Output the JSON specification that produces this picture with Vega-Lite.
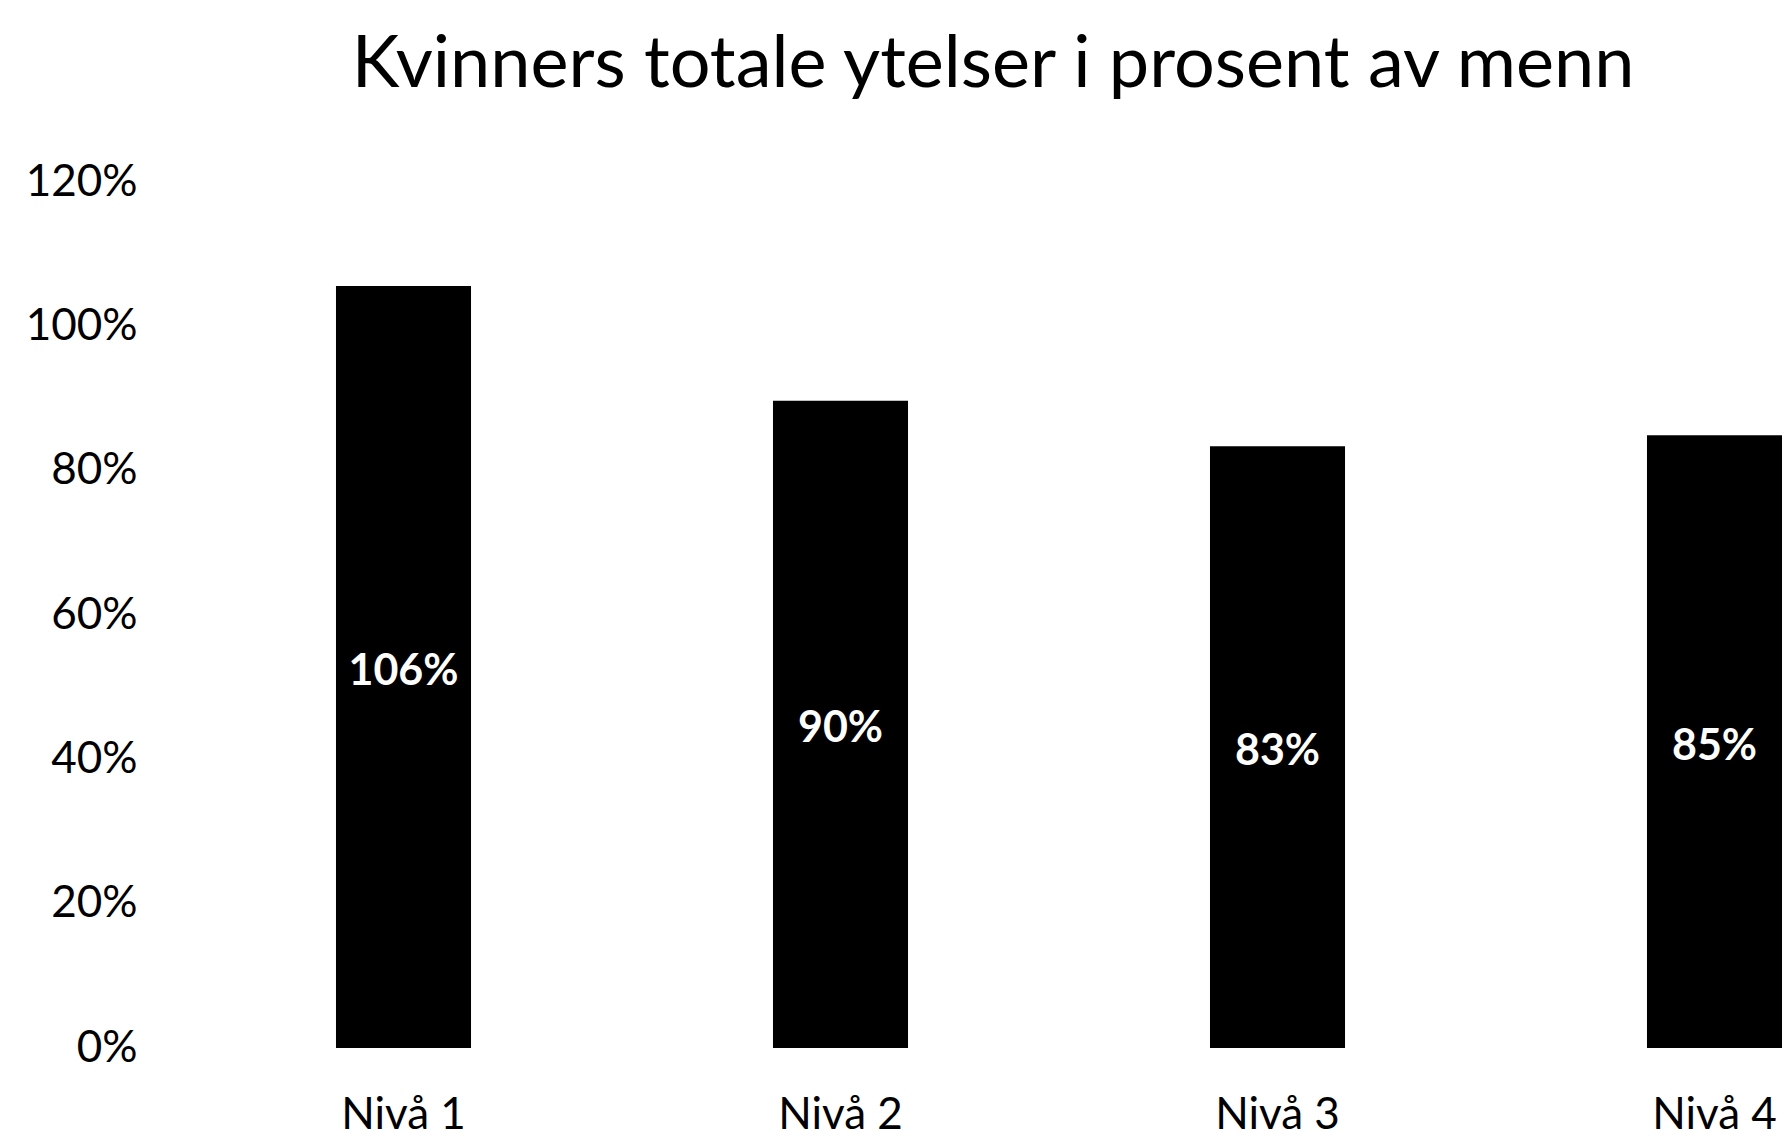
{
  "$schema": "https://vega.github.io/schema/vega-lite/v6.json",
  "width": 1600,
  "height": 866,
  "autosize": {"type": "none"},
  "padding": {"left": 185, "top": 182, "right": 0, "bottom": 90},
  "background": "white",
  "config": {"view": {"stroke": null}},
  "title": {
    "text": "Kvinners totale ytelser i prosent av menn",
    "font": "Lato",
    "fontSize": 72,
    "fontWeight": "normal",
    "color": "black",
    "anchor": "middle",
    "dx": 8,
    "offset": 58
  },
  "data": {
    "values": [
      {"niva": "Nivå 1", "andel": 1.056},
      {"niva": "Nivå 2", "andel": 0.897},
      {"niva": "Nivå 3", "andel": 0.834},
      {"niva": "Nivå 4", "andel": 0.849}
    ]
  },
  "encoding": {
    "x": {
      "field": "niva",
      "type": "nominal",
      "sort": null,
      "scale": {"range": [0, 1748], "paddingInner": 0.691, "paddingOuter": 0.3455},
      "axis": {
        "title": null,
        "labelAngle": 0,
        "domain": false,
        "ticks": false,
        "labelFont": "Lato",
        "labelFontSize": 44,
        "labelColor": "black",
        "labelPadding": 45
      }
    }
  },
  "layer": [
    {
      "mark": {"type": "bar", "color": "black", "clip": true},
      "encoding": {
        "y": {
          "field": "andel",
          "type": "quantitative",
          "scale": {"domain": [0, 1.2]},
          "axis": {
            "title": null,
            "format": ".0%",
            "values": [0, 0.2, 0.4, 0.6, 0.8, 1.0, 1.2],
            "grid": false,
            "domain": false,
            "ticks": false,
            "labelFont": "Lato",
            "labelFontSize": 44,
            "labelColor": "black",
            "labelPadding": 48
          }
        }
      }
    },
    {
      "mark": {"type": "text", "color": "white", "font": "Lato", "fontWeight": "bold", "fontSize": 43, "baseline": "middle", "dy": 5, "clip": true},
      "encoding": {
        "y": {
          "field": "andel",
          "type": "quantitative",
          "scale": {"domain": [0, 2.4]},
          "axis": null
        },
        "text": {"field": "andel", "type": "quantitative", "format": ".0%"}
      }
    }
  ],
  "resolve": {"scale": {"y": "independent"}}
}
